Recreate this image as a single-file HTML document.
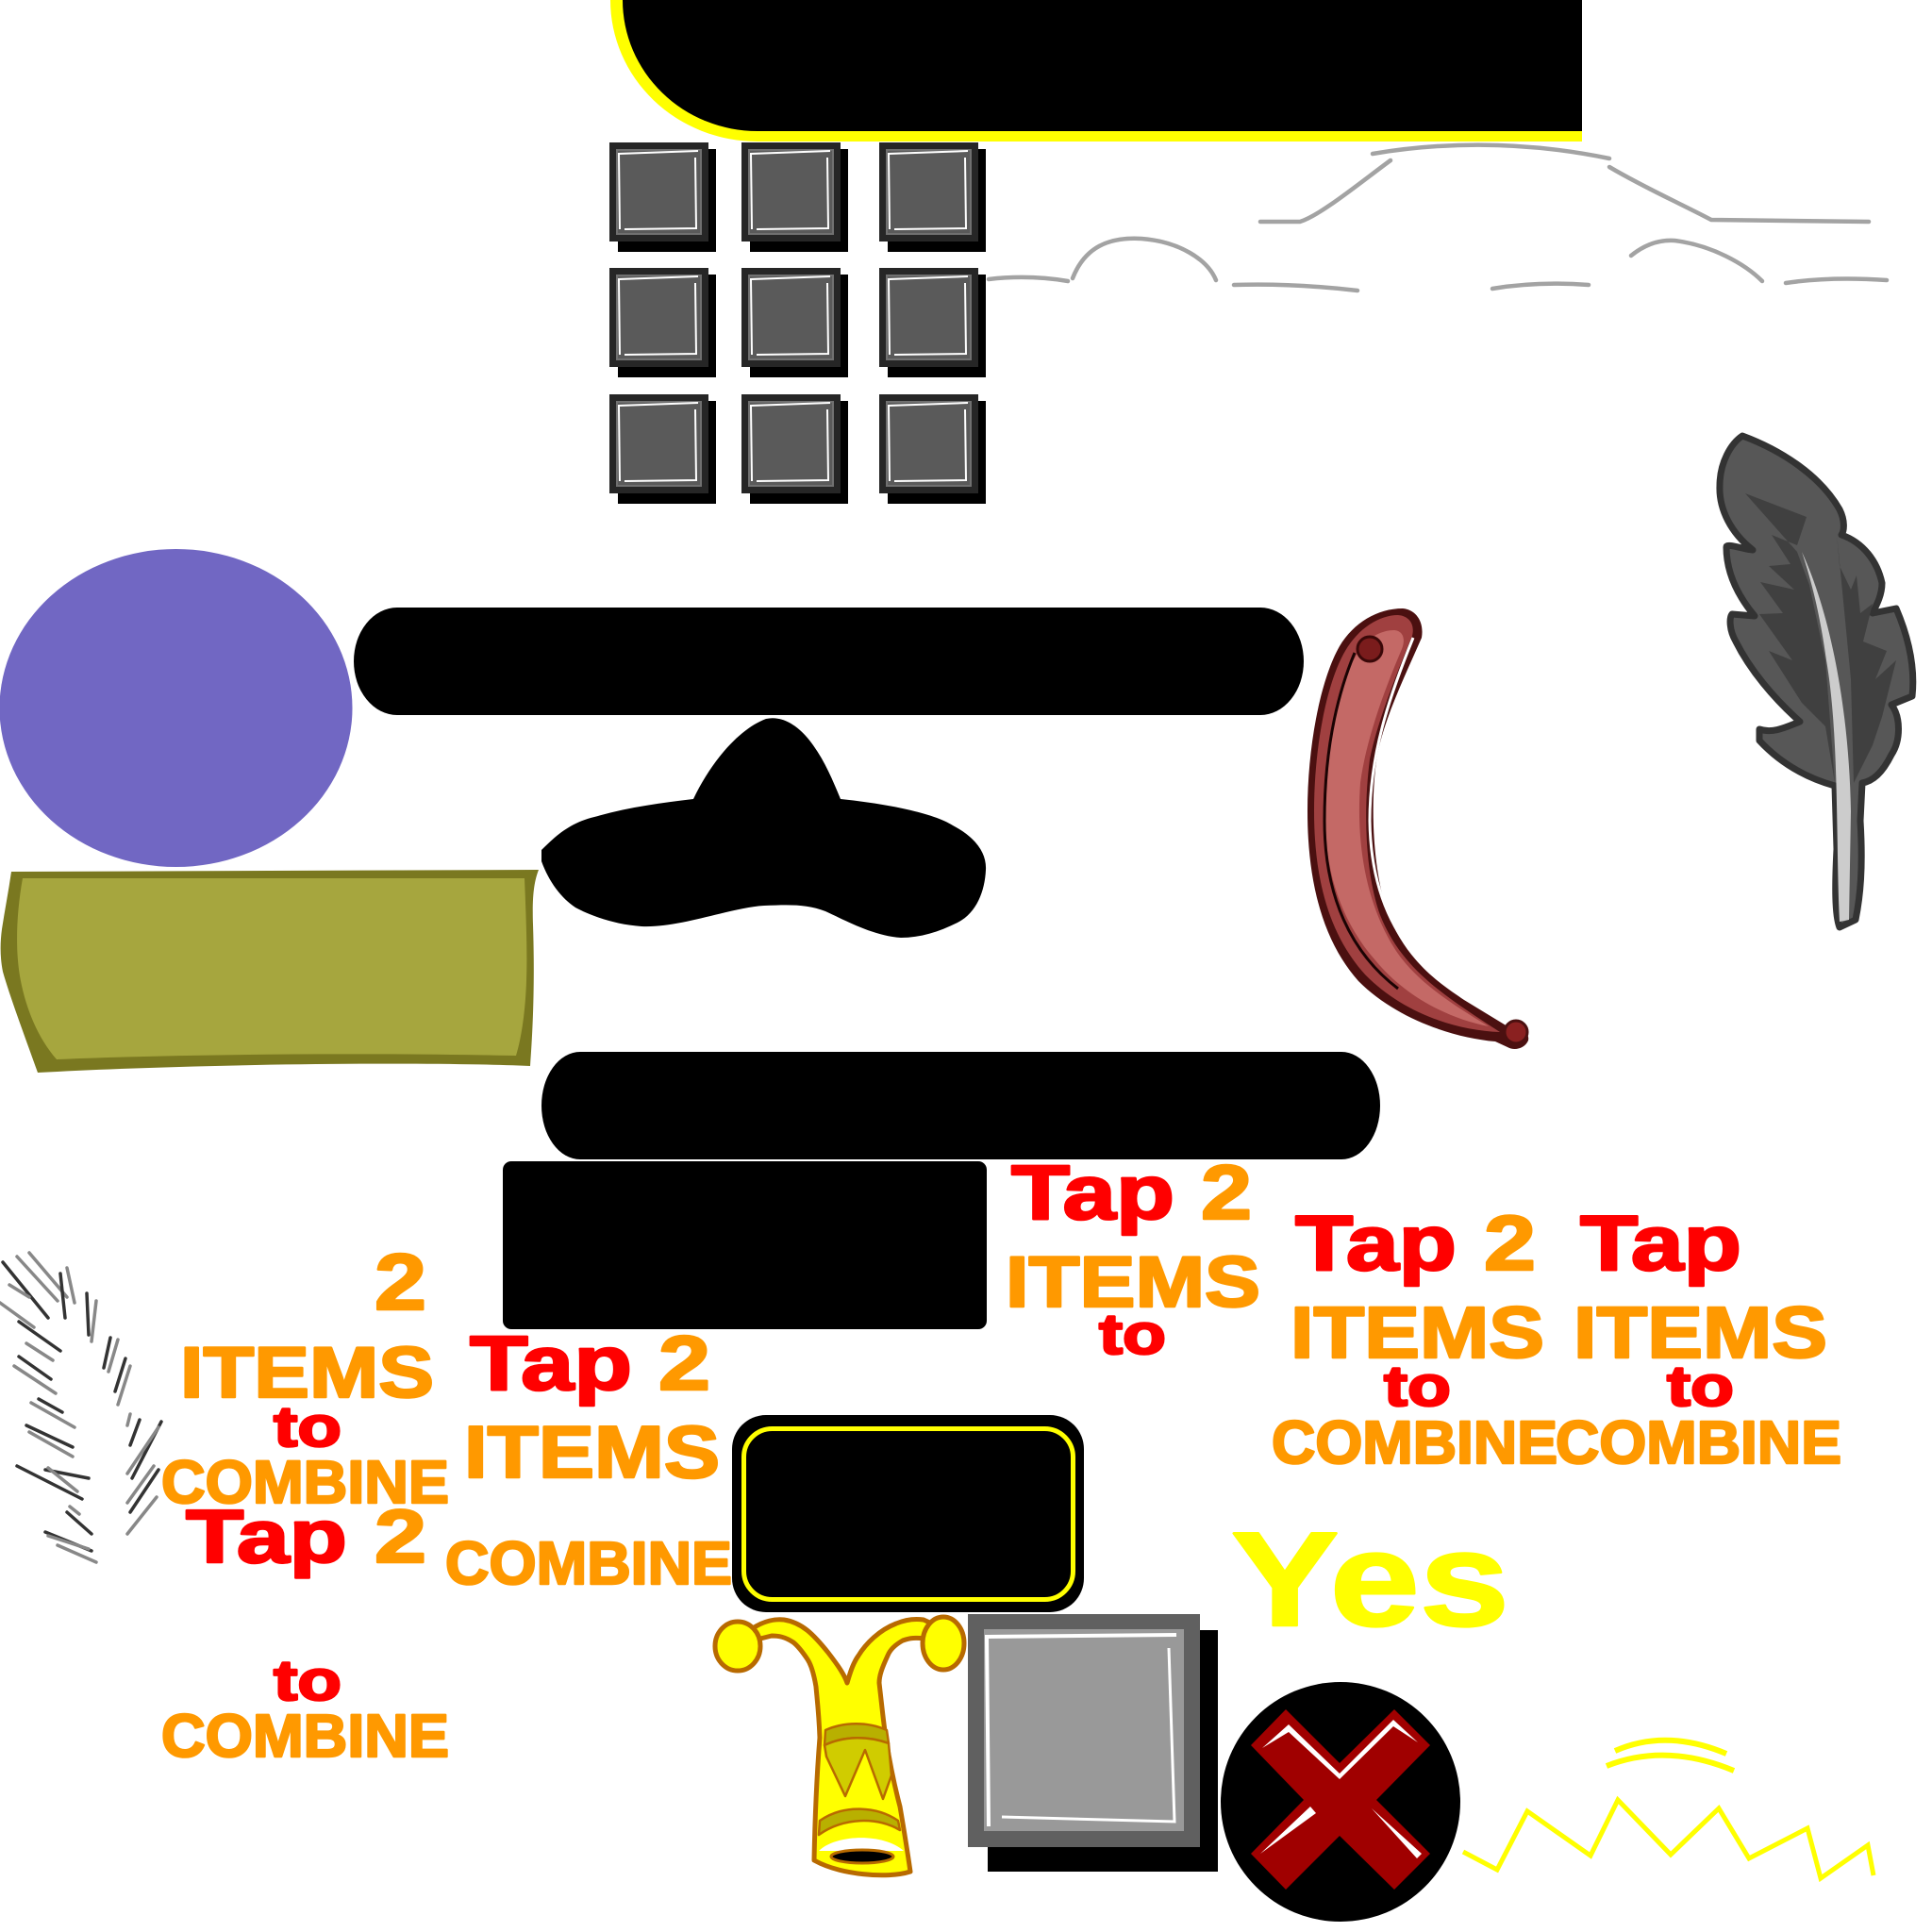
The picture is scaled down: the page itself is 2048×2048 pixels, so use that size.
<!DOCTYPE html>
<html><head><meta charset="utf-8"><style>
html,body{margin:0;padding:0;background:#fff;}
svg{display:block;}
text{font-family:"Liberation Sans",Arial,sans-serif;font-weight:bold;stroke-width:2.5;stroke-linejoin:round;}
</style></head><body>
<svg width="2048" height="2048" viewBox="0 0 2048 2048" xmlns="http://www.w3.org/2000/svg">
<rect width="2048" height="2048" fill="#fff"/>
<defs>
<g id="sq">
<rect x="9" y="7" width="104" height="109" fill="#000"/>
<rect x="0" y="0" width="105" height="105" fill="#262626"/>
<rect x="7" y="7" width="91" height="91" fill="#707070"/>
<rect x="9" y="9" width="87" height="87" fill="#5a5a5a"/>
<polyline points="94,9 10,12 11,92" fill="none" stroke="#fff" stroke-width="2"/>
<polyline points="91,16 92,91 16,92" fill="none" stroke="#fff" stroke-width="2"/>
</g>
</defs>

<!-- top black box -->
<path d="M647,-5 L647,0 A156,150 0 0 0 803,150 L1677,150 L1677,-5 Z" fill="#ffff00"/>
<path d="M660,-5 L660,0 A143,139 0 0 0 803,139 L1677,139 L1677,-5 Z" fill="#000"/>

<!-- grid -->
<use href="#sq" x="646" y="151"/><use href="#sq" x="786" y="151"/><use href="#sq" x="932" y="151"/>
<use href="#sq" x="646" y="284"/><use href="#sq" x="786" y="284"/><use href="#sq" x="932" y="284"/>
<use href="#sq" x="646" y="418"/><use href="#sq" x="786" y="418"/><use href="#sq" x="932" y="418"/>

<!-- car lines -->
<g fill="none" stroke="#a3a3a3" stroke-linecap="round">
<path d="M1455,163 Q1580,142 1706,168" stroke-width="4.5"/>
<path d="M1474,170 C1440,195 1400,228 1378,235 L1336,235" stroke-width="4.5"/>
<path d="M1706,177 C1745,200 1780,215 1814,233 L1981,235" stroke-width="4.5"/>
<path d="M1048,296 Q1090,291 1132,298" stroke-width="4.5"/>
<path d="M1137,295 C1150,262 1175,251 1210,253 C1250,256 1280,275 1289,297" stroke-width="4.5"/>
<path d="M1308,302 Q1370,300 1439,308" stroke-width="4.5"/>
<path d="M1582,306 Q1630,298 1684,302" stroke-width="4.5"/>
<path d="M1729,271 C1745,258 1760,254 1775,255 C1815,260 1850,280 1868,298" stroke-width="4.5"/>
<path d="M1893,300 Q1940,293 2000,297" stroke-width="4.5"/>
</g>

<!-- purple ellipse -->
<ellipse cx="186.5" cy="750.5" rx="187" ry="168.5" fill="#7167c3"/>

<!-- olive rect -->
<path d="M12,924 L571,922 C566,935 564,950 565,980 C567,1040 565,1090 562,1130 C450,1125 200,1128 40,1137 C25,1095 10,1055 3,1030 C0,1015 0,1000 2,985 C5,965 9,945 12,924 Z" fill="#7a7820"/>
<path d="M24,931 L556,931 C558,980 559,1010 558,1040 C557,1070 553,1100 547,1119 C400,1116 200,1117 60,1123 C40,1100 28,1070 22,1040 C16,1010 17,970 24,931 Z" fill="#a6a63e"/>

<!-- black bars -->
<rect x="375" y="644" width="1007" height="114" rx="46" ry="57" fill="#000"/>
<rect x="574" y="1115" width="889" height="114" rx="41" ry="57" fill="#000"/>
<rect x="533" y="1231" width="513" height="178" rx="9" ry="9" fill="#000"/>

<!-- hat -->
<path d="M735,847 C755,805 785,772 812,762 C830,758 848,770 862,790 C875,808 884,830 891,847 C940,852 990,862 1010,875 C1035,888 1046,905 1045,922 C1044,945 1035,968 1015,978 C995,988 975,994 955,994 C925,992 895,975 875,966 C855,958 835,959 810,960 C775,962 720,984 680,982 C650,980 625,970 610,962 C595,952 582,935 574,913 L574,901 C590,885 605,872 630,866 C665,856 700,851 735,847 Z" fill="#000"/>

<!-- red horn -->
<path d="M1487,645 C1500,646 1510,658 1507,676 C1490,715 1468,760 1460,800 C1452,850 1455,920 1470,965 C1490,1020 1530,1045 1552,1060 L1598,1088 C1610,1088 1622,1093 1620,1103 C1616,1112 1605,1114 1598,1110 L1585,1104 C1540,1100 1480,1080 1440,1040 C1400,995 1386,930 1386,860 C1386,790 1400,720 1420,685 C1435,660 1460,645 1487,645 Z" fill="#4b1010"/>
<path d="M1482,652 C1494,653 1500,662 1497,674 C1480,715 1460,765 1452,805 C1445,860 1447,925 1463,970 C1485,1025 1525,1052 1590,1094 C1540,1092 1485,1072 1447,1033 C1408,990 1393,930 1393,860 C1393,790 1407,722 1426,690 C1440,666 1462,652 1482,652 Z" fill="#a04040"/>
<path d="M1478,668 C1488,669 1490,678 1486,688 C1466,735 1448,785 1442,830 C1437,900 1450,960 1478,1005 C1500,1040 1540,1065 1578,1088 C1535,1080 1488,1055 1458,1018 C1420,975 1404,920 1404,860 C1404,785 1422,715 1442,688 C1452,674 1466,668 1478,668 Z" fill="#c46966"/>
<path d="M1436,692 C1416,740 1404,800 1404,870 C1404,950 1432,1010 1482,1048" fill="none" stroke="#1a0303" stroke-width="3"/>
<path d="M1498,676 C1472,740 1452,800 1452,870 C1453,950 1482,1010 1542,1050" fill="none" stroke="#fff" stroke-width="3"/>
<circle cx="1452" cy="688" r="13" fill="#7a1c1c" stroke="#3a0808" stroke-width="3"/>
<circle cx="1607" cy="1094" r="12" fill="#8a2020" stroke="#4b1010" stroke-width="3"/>

<!-- feather -->
<path d="M1847,462 C1890,478 1930,505 1950,540 C1956,552 1955,563 1952,567 C1975,575 1990,595 1995,618 C1995,630 1990,640 1985,650 L2010,645 C2025,680 2030,710 2027,738 L2005,747 C2015,760 2015,785 2005,800 C1995,820 1985,828 1974,830 L1972,870 C1975,920 1972,950 1967,975 L1950,983 C1945,970 1945,940 1947,900 L1945,833 C1920,826 1890,812 1865,785 L1865,773 C1880,778 1895,770 1908,765 C1880,740 1855,710 1840,680 C1833,668 1833,655 1836,651 L1860,653 C1845,635 1830,610 1830,580 C1830,575 1850,583 1858,583 C1835,565 1822,540 1823,515 C1823,490 1835,470 1847,462 Z" fill="#575757" stroke="#333" stroke-width="7" stroke-linejoin="round"/>
<polygon points="1850,523 1915,548 1905,578 1878,567 1898,598 1875,600 1902,625 1866,617 1890,650 1865,651 1900,700 1875,690 1910,745 1935,770 1945,830 1935,700 1918,620 1905,585" fill="#404040"/>
<polygon points="1947,565 1950,600 1962,625 1968,610 1972,650 1985,640 1975,680 2000,690 1988,720 2010,700 1995,760 1985,790 1965,830 1962,720" fill="#404040"/>
<path d="M1910,585 C1940,650 1960,750 1962,860 L1960,975 L1950,977 C1946,900 1950,780 1936,700 C1929,650 1920,615 1910,585 Z" fill="#ccc"/>

<!-- grass strokes -->
<g fill="none" stroke-linecap="round" stroke-width="3.5">
<line x1="3" y1="1338" x2="51" y2="1397" stroke="#333"/>
<line x1="18" y1="1332" x2="61" y2="1379" stroke="#888"/>
<line x1="31" y1="1328" x2="71" y2="1375" stroke="#888"/>
<line x1="64" y1="1350" x2="69" y2="1397" stroke="#333"/>
<line x1="71" y1="1344" x2="79" y2="1381" stroke="#888"/>
<line x1="92" y1="1371" x2="94" y2="1415" stroke="#333"/>
<line x1="102" y1="1379" x2="97" y2="1422" stroke="#888"/>
<line x1="10" y1="1362" x2="31" y2="1375" stroke="#888"/>
<line x1="0" y1="1381" x2="36" y2="1407" stroke="#888"/>
<line x1="20" y1="1401" x2="64" y2="1432" stroke="#333"/>
<line x1="28" y1="1424" x2="56" y2="1442" stroke="#888"/>
<line x1="20" y1="1438" x2="54" y2="1462" stroke="#333"/>
<line x1="15" y1="1448" x2="59" y2="1477" stroke="#888"/>
<line x1="41" y1="1483" x2="66" y2="1497" stroke="#333"/>
<line x1="33" y1="1487" x2="79" y2="1513" stroke="#888"/>
<line x1="28" y1="1511" x2="77" y2="1534" stroke="#333"/>
<line x1="31" y1="1518" x2="77" y2="1544" stroke="#888"/>
<line x1="18" y1="1554" x2="87" y2="1589" stroke="#333"/>
<line x1="48" y1="1558" x2="94" y2="1567" stroke="#333"/>
<line x1="51" y1="1556" x2="82" y2="1581" stroke="#888"/>
<line x1="74" y1="1597" x2="84" y2="1605" stroke="#888"/>
<line x1="48" y1="1624" x2="97" y2="1644" stroke="#333"/>
<line x1="51" y1="1628" x2="94" y2="1642" stroke="#888"/>
<line x1="61" y1="1638" x2="102" y2="1656" stroke="#888"/>
<line x1="71" y1="1603" x2="97" y2="1626" stroke="#333"/>
<line x1="117" y1="1418" x2="110" y2="1450" stroke="#333"/>
<line x1="125" y1="1420" x2="115" y2="1454" stroke="#888"/>
<line x1="133" y1="1440" x2="122" y2="1475" stroke="#333"/>
<line x1="138" y1="1448" x2="125" y2="1489" stroke="#888"/>
<line x1="138" y1="1499" x2="135" y2="1511" stroke="#888"/>
<line x1="148" y1="1505" x2="138" y2="1532" stroke="#333"/>
<line x1="171" y1="1507" x2="140" y2="1567" stroke="#333"/>
<line x1="168" y1="1513" x2="135" y2="1562" stroke="#888"/>
<line x1="163" y1="1554" x2="135" y2="1593" stroke="#888"/>
<line x1="168" y1="1558" x2="138" y2="1603" stroke="#333"/>
<line x1="166" y1="1587" x2="135" y2="1626" stroke="#888"/>
</g>

<!-- yellow bordered black rect -->
<rect x="776" y="1500" width="373" height="209" rx="36" ry="36" fill="#000"/>
<rect x="788.5" y="1514.5" width="349" height="181" rx="30" ry="30" fill="none" stroke="#ffff00" stroke-width="5"/>

<!-- jester -->
<g stroke="#b86a00" stroke-width="5" stroke-linejoin="round">
<path d="M798,1726 C810,1718 822,1716 831,1717 C850,1720 862,1732 878,1752 C888,1765 895,1775 898,1784 C902,1770 905,1762 910,1755 C918,1742 932,1728 950,1721 C962,1716 972,1716 979,1717 L990,1722 L983,1737 C970,1736 965,1736 957,1739 C948,1744 943,1750 941,1755 C935,1768 932,1776 932,1784 C935,1810 937,1830 939,1842 C945,1880 950,1900 954,1915 C960,1950 963,1970 965,1984 C940,1992 890,1987 863,1972 C864,1920 866,1880 869,1842 C868,1815 866,1800 865,1788 C862,1770 858,1762 856,1759 C850,1750 846,1745 841,1741 C832,1735 825,1734 818,1734 L798,1739 Z" fill="#ffff00"/>
<ellipse cx="782" cy="1745" rx="24" ry="26" fill="#ffff00"/>
<ellipse cx="1000" cy="1742" rx="22" ry="28" fill="#ffff00"/>
<path d="M875,1834 C895,1825 920,1825 940,1834 L942,1848 C920,1840 895,1840 874,1850 Z" fill="#b8b000" stroke-width="2.5"/>
<path d="M874,1850 C895,1840 920,1840 942,1848 L945,1882 L936,1907 L917,1855 L896,1904 L876,1862 Z" fill="#d0cc00" stroke-width="2.5"/>
<path d="M869,1930 C895,1912 930,1915 952,1930 L954,1940 C930,1926 895,1926 868,1945 Z" fill="#b8b000" stroke-width="2.5"/>
<path d="M868,1962 C885,1945 935,1942 958,1962 Z" fill="#fff" stroke="none"/>
<ellipse cx="914" cy="1968" rx="33" ry="7" fill="#000" stroke-width="3"/>
</g>

<!-- gray square -->
<rect x="1047" y="1728" width="244" height="256" fill="#000"/>
<rect x="1026" y="1711" width="246" height="247" fill="#606060"/>
<rect x="1043" y="1727" width="212" height="214" fill="#999"/>
<polyline points="1247,1733 1046,1735 1048,1936" fill="none" stroke="#fff" stroke-width="4"/>
<polyline points="1239,1747 1245,1931 1062,1926" fill="none" stroke="#fff" stroke-width="3"/>

<!-- X circle -->
<circle cx="1421" cy="1910" r="127" fill="#000"/>
<polygon points="1363,1812 1420,1869 1478,1812 1516,1850 1459,1908 1516,1965 1478,2003 1420,1946 1363,2003 1326,1965 1382,1908 1326,1850" fill="#a00000"/>
<polygon points="1338,1853 1366,1828 1420,1880 1477,1823 1503,1847 1477,1830 1420,1886 1366,1836" fill="#fff"/>
<polygon points="1336,1965 1389,1915 1395,1922" fill="#fff"/>
<polygon points="1454,1917 1507,1965 1502,1970" fill="#fff"/>

<!-- yellow zigzag -->
<polyline points="1551,1963 1587,1982 1619,1920 1686,1967 1715,1908 1771,1966 1822,1917 1854,1970 1916,1938 1930,1991 1980,1956 1986,1988" fill="none" stroke="#ffff00" stroke-width="5" stroke-linejoin="miter"/>
<path d="M1712,1856 Q1766,1832 1830,1859" fill="none" stroke="#ffff00" stroke-width="6"/>
<path d="M1703,1872 Q1766,1847 1838,1877" fill="none" stroke="#ffff00" stroke-width="6"/>

<!-- texts -->
<g>
<text x="1072" y="1292" font-size="82" fill="#ff0000" stroke="#ff0000" textLength="173" lengthAdjust="spacingAndGlyphs">Tap</text>
<text x="1273" y="1292" font-size="82" fill="#ff9900" stroke="#ff9900" textLength="54" lengthAdjust="spacingAndGlyphs">2</text>
<text x="1066" y="1385" font-size="76" fill="#ff9900" stroke="#ff9900" textLength="270" lengthAdjust="spacingAndGlyphs">ITEMS</text>
<text x="1165" y="1435" font-size="60" fill="#ff0000" stroke="#ff0000" textLength="71" lengthAdjust="spacingAndGlyphs">to</text>

<text x="397" y="1388" font-size="84" fill="#ff9900" stroke="#ff9900" textLength="55" lengthAdjust="spacingAndGlyphs">2</text>
<text x="191" y="1481" font-size="76" fill="#ff9900" stroke="#ff9900" textLength="269" lengthAdjust="spacingAndGlyphs">ITEMS</text>
<text x="290" y="1533" font-size="60" fill="#ff0000" stroke="#ff0000" textLength="72" lengthAdjust="spacingAndGlyphs">to</text>
<text x="171" y="1593" font-size="64" fill="#ff9900" stroke="#ff9900" textLength="305" lengthAdjust="spacingAndGlyphs">COMBINE</text>
<text x="197" y="1656" font-size="80" fill="#ff0000" stroke="#ff0000" textLength="171" lengthAdjust="spacingAndGlyphs">Tap</text>
<text x="397" y="1656" font-size="80" fill="#ff9900" stroke="#ff9900" textLength="55" lengthAdjust="spacingAndGlyphs">2</text>
<text x="290" y="1802" font-size="60" fill="#ff0000" stroke="#ff0000" textLength="72" lengthAdjust="spacingAndGlyphs">to</text>
<text x="171" y="1862" font-size="64" fill="#ff9900" stroke="#ff9900" textLength="305" lengthAdjust="spacingAndGlyphs">COMBINE</text>

<text x="498" y="1473" font-size="82" fill="#ff0000" stroke="#ff0000" textLength="172" lengthAdjust="spacingAndGlyphs">Tap</text>
<text x="698" y="1473" font-size="82" fill="#ff9900" stroke="#ff9900" textLength="55" lengthAdjust="spacingAndGlyphs">2</text>
<text x="492" y="1566" font-size="78" fill="#ff9900" stroke="#ff9900" textLength="271" lengthAdjust="spacingAndGlyphs">ITEMS</text>
<text x="472" y="1679" font-size="64" fill="#ff9900" stroke="#ff9900" textLength="304" lengthAdjust="spacingAndGlyphs">COMBINE</text>

<text x="1373" y="1346" font-size="83" fill="#ff0000" stroke="#ff0000" textLength="171" lengthAdjust="spacingAndGlyphs">Tap</text>
<text x="1573" y="1346" font-size="83" fill="#ff9900" stroke="#ff9900" textLength="55" lengthAdjust="spacingAndGlyphs">2</text>
<text x="1675" y="1346" font-size="83" fill="#ff0000" stroke="#ff0000" textLength="171" lengthAdjust="spacingAndGlyphs">Tap</text>
<text x="1368" y="1439" font-size="77" fill="#ff9900" stroke="#ff9900" textLength="269" lengthAdjust="spacingAndGlyphs">ITEMS</text>
<text x="1668" y="1439" font-size="77" fill="#ff9900" stroke="#ff9900" textLength="269" lengthAdjust="spacingAndGlyphs">ITEMS</text>
<text x="1467" y="1490" font-size="60" fill="#ff0000" stroke="#ff0000" textLength="71" lengthAdjust="spacingAndGlyphs">to</text>
<text x="1767" y="1490" font-size="60" fill="#ff0000" stroke="#ff0000" textLength="71" lengthAdjust="spacingAndGlyphs">to</text>
<text x="1348" y="1551" font-size="64" fill="#ff9900" stroke="#ff9900" textLength="303" lengthAdjust="spacingAndGlyphs">COMBINE</text>
<text x="1649" y="1551" font-size="64" fill="#ff9900" stroke="#ff9900" textLength="303" lengthAdjust="spacingAndGlyphs">COMBINE</text>
<text x="1305" y="1723" font-size="142" fill="#ffff00" stroke="#ffff00" textLength="295" lengthAdjust="spacingAndGlyphs">Yes</text>
</g>
</svg>
</body></html>
